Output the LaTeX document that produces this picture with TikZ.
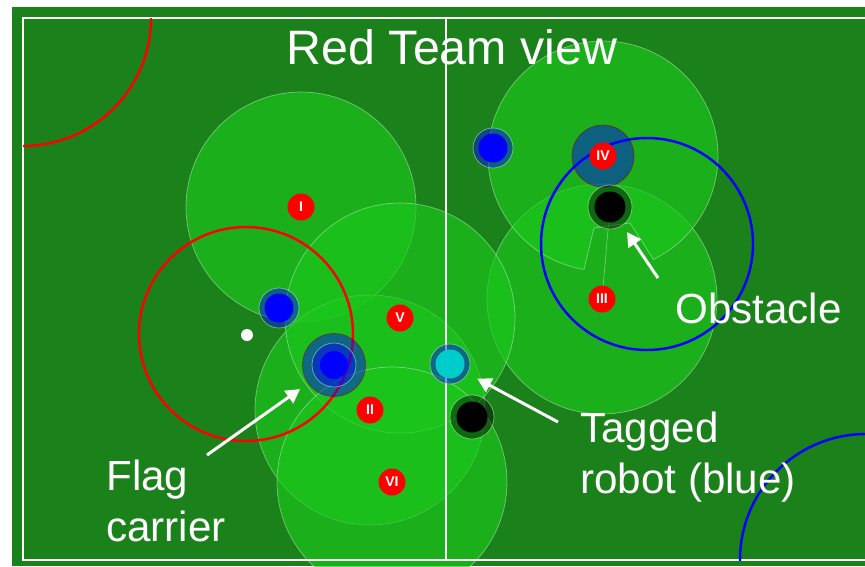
\documentclass[tikz,border=0pt]{standalone}
\usepackage{fontspec}
\setmainfont{Liberation Sans}
\usetikzlibrary{arrows.meta}
\definecolor{fieldgreen}{RGB}{27,130,27}
\definecolor{sensegreen}{RGB}{28,200,28}
\definecolor{senseedge}{RGB}{190,235,190}
\definecolor{cyanbot}{RGB}{0,204,204}
\tikzset{
    sense/.style={fill=sensegreen, fill opacity=0.65, draw=senseedge, draw opacity=0.55, line width=0.4pt},
    fieldline/.style={draw=white, line width=1.6pt},
    halo/.style={circle, inner sep=0pt, fill=#1, fill opacity=0.45, draw=senseedge, draw opacity=0.6, line width=0.4pt},
    redbot/.style={circle, inner sep=0pt, minimum size=0.54cm, fill=red, text=white, font=\fontsize{8}{8}\selectfont\bfseries},
    callout/.style={draw=white, line width=1.7pt, -{Triangle[length=8pt,width=8.5pt]}},
    caption/.style={text=white, inner sep=0pt, align=left, font=\fontsize{24}{28.9}\selectfont}
}
\begin{document}
\begin{tikzpicture}[x=0.02cm, y=-0.02cm]
\useasboundingbox (0,0) rectangle (865,566);
\clip (0,0) rectangle (865,566);
\fill[fieldgreen] (12,7) rectangle (865,566);
\foreach \p/\x/\y in {I/301/207, II/370/410, III/602/299, IV/603/156, V/400/318, VI/392/482, O1/610/207, O2/472/417}{
    \coordinate (\p) at (\x,\y);
}
\foreach \p in {I,II,III,V,VI}{
    \filldraw[sense] (\p) circle (115);
}
\begin{scope}[shift={(IV)}]
\filldraw[sense] (-9,72) -- (99.5:115) arc[start angle=99.5, end angle=424, radius=115] -- (27,67) -- cycle;
\end{scope}
\draw[senseedge, opacity=0.5, line width=0.4pt] (III) -- (O1);
\draw[fieldline] (23,18) rectangle (880,560);
\draw[fieldline] (446,18) -- (446,560);
\begin{scope}
\clip (23,18) rectangle (880,560);
\draw[red, line width=1.4pt] (23,18) circle (128);
\draw[blue, line width=1.4pt] (866,560) circle (126);
\end{scope}
\node[halo=blue, minimum size=1.24cm, draw=red!60!black] (ivhalo) at (IV) {};
\draw[blue, line width=1.4pt] (647,244) circle (106);
\draw[red, line width=1.4pt] (246,334) circle (107);
\node[halo=blue, minimum size=1.26cm, draw=red!60!black] (flag) at (334,365) {};
\node[halo=blue, minimum size=0.88cm] (flagin) at (flag) {};
\fill[blue] (flag) circle (14);
\foreach \p/\x/\y/\c in {b1/493/148/blue, b2/279/308/blue, tag/450/364/cyanbot}{
    \node[halo=blue, minimum size=0.8cm] (\p) at (\x,\y) {};
    \fill[\c] (\p) circle (14.5);
}
\foreach \p in {O1,O2}{
    \node[halo=black, minimum size=0.88cm] (obs\p) at (\p) {};
    \fill[black] (\p) circle (15.5);
}
\fill[white] (247,335) circle (6);
\foreach \p in {I,II,III,IV,V,VI}{
    \node[redbot] (bot\p) at (\p) {\p};
}
\node[caption, anchor=base, font=\fontsize{27.5}{30}\selectfont] (title) at (452,64) {Red Team view};
\node[caption, anchor=base west] (obstext) at (675,323) {Obstacle};
\node[caption, anchor=north west] (tagtext) at (580,412) {Tagged\\robot (blue)};
\node[caption, anchor=north west] (flagtext) at (106,460) {Flag\\carrier};
\coordinate (flagtail) at (207,455);
\coordinate (tagtail) at (558,422);
\coordinate (obstail) at (658,278);
\draw[callout, shorten >=5.5pt] (flagtail) -- (flag);
\draw[callout, shorten >=6pt] (tagtail) -- (tag);
\draw[callout, shorten >=4.5pt] (obstail) -- (obsO1);
\end{tikzpicture}
\end{document}
